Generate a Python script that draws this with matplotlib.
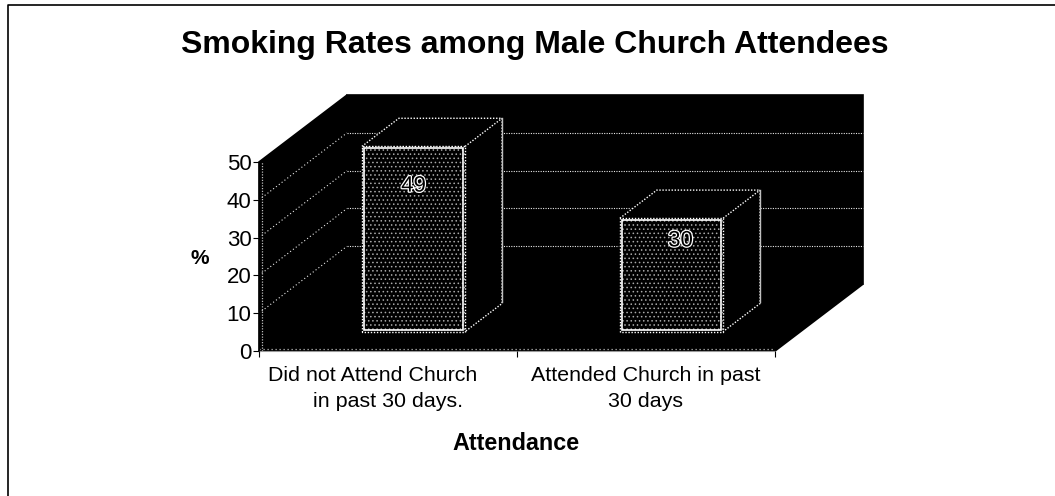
import matplotlib
matplotlib.use('Agg')
from matplotlib import pyplot as plt
from matplotlib.lines import Line2D
from matplotlib.patches import Polygon
import matplotlib.patheffects as pe

plt.rcParams['font.family'] = ['Liberation Sans', 'DejaVu Sans']
plt.rcParams['hatch.linewidth'] = 0.6

categories = ['Did not Attend Church     \nin past 30 days.', 'Attended Church in past\n30 days']
rates = [49, 30]
y_ticks = [0, 10, 20, 30, 40, 50]
grid_values = [10, 20, 30, 40]
label_drop = [10.5, 6]      # how far below the bar top the number sits
label_shift = [0, 9]        # sideways nudge of the number, px

# depth of the fake 3d box, in axis units
DEPTH_X = 0.341
DEPTH_V = 17.7
BAR_WIDTH = 0.40
BAR_NEAR = 0.29
BAR_FAR = 0.71


def proj(x, v, d):
    return x + d * DEPTH_X, v + d * DEPTH_V


def face(ax, pts, **kw):
    kw.setdefault('facecolor', 'black')
    kw.setdefault('edgecolor', 'black')
    kw.setdefault('linewidth', 1.2)
    p = Polygon([proj(*pt) for pt in pts], closed=True, clip_on=False, **kw)
    ax.add_patch(p)
    return p


def dotted(ax, pts, color='#e8e8e8', lw=0.9, z=3, gap=1.2):
    xs, ys = zip(*[proj(*pt) for pt in pts])
    ax.add_line(Line2D(xs, ys, color=color, lw=lw, ls=(0, (1, gap)), clip_on=False, zorder=z))


def draw_walls(ax):
    face(ax, [(0, 0, 0), (0, 50, 0), (0, 50, 1), (0, 0, 1)], zorder=1)
    face(ax, [(0, 0, 1), (0, 50, 1), (2, 50, 1), (2, 0, 1)], zorder=1)
    face(ax, [(0, 0, 0), (2, 0, 0), (2, 0, 1), (0, 0, 1)], zorder=1)
    for v in grid_values:
        dotted(ax, [(0, v, 0), (0, v, 1)], lw=0.8, z=2, gap=2.2)
        dotted(ax, [(0, v, 1), (2, v, 1)], lw=0.8, z=2)
    dotted(ax, [(0, 0.6, 0), (2, 0.6, 0)], color='#bbbbbb', z=2, gap=2.2)
    dotted(ax, [(0.01, 0, 0), (0.01, 50, 0)], color='#bbbbbb', z=2)


def draw_bar(ax, center, value, drop, shift):
    x0 = center - BAR_WIDTH / 2
    x1 = center + BAR_WIDTH / 2
    n, f = BAR_NEAR, BAR_FAR
    front = [(x0, 0, n), (x0, value, n), (x1, value, n), (x1, 0, n)]
    top = [(x0, value, n), (x0, value, f), (x1, value, f), (x1, value, n)]
    side = [(x1, 0, n), (x1, value, n), (x1, value, f), (x1, 0, f)]
    face(ax, side, zorder=4)
    face(ax, top, zorder=4)
    face(ax, front, zorder=4)
    # speckled front panel
    face(ax, front, zorder=5, facecolor='none', edgecolor='#a8a8a8', hatch='....', linewidth=0)

    # outer dotted edges of the box
    dotted(ax, front + front[:1], color='white', lw=1.0, z=6)
    dotted(ax, [(x0, value, n), (x0, value, f), (x1, value, f), (x1, 0, f), (x1, 0, n)], color='white', lw=1.0, z=6)
    dotted(ax, [(x1, value, n), (x1, value, f)], color='white', lw=1.0, z=6)

    # solid inner frame of the front panel
    ix, iv = 0.008, 0.55
    face(ax, [(x0 + ix, iv, n), (x0 + ix, value - iv, n), (x1 - ix, value - iv, n), (x1 - ix, iv, n)],
         facecolor='none', edgecolor='white', linewidth=1.2, zorder=6)
    ax.add_line(Line2D(*zip(*[proj(x1, 0.4, f), proj(x1, value, f)]), color='#c0c0c0', lw=1.0,
                       clip_on=False, zorder=6))

    lx, lv = proj(center, value - drop, n)
    ax.annotate(str(value), (lx, lv), xytext=(shift * 0.72, 0), textcoords='offset points',
                ha='center', va='center', fontsize=16, color='black', zorder=8,
                path_effects=[pe.withStroke(linewidth=1.8, foreground='white')])


fig = plt.figure(figsize=(10.55, 4.96), dpi=100)
ax = fig.add_axes([259 / 1055, 145 / 496, 516 / 1055, 189 / 496])
ax.set_xlim(0, 2)
ax.set_ylim(0, 50)
ax.patch.set_visible(False)

draw_walls(ax)
for i, val in enumerate(rates):
    draw_bar(ax, i + 0.5, val, label_drop[i], label_shift[i])

for s in ['top', 'right']:
    ax.spines[s].set_visible(False)
ax.spines['bottom'].set_color('#999999')
ax.spines['left'].set_linewidth(1.0)
ax.set_axisbelow(False)

ax.set_yticks(y_ticks)
ax.tick_params(axis='y', labelsize=16, length=4, width=0.8, pad=1.5)
ax.set_xticks([0, 1, 2])
ax.set_xticklabels([])
ax.set_xticks([0.5, 1.5], minor=True)
ax.set_xticklabels(categories, minor=True, fontsize=15.4, linespacing=1.42)
ax.tick_params(axis='x', which='major', length=4, width=0.8)
ax.tick_params(axis='x', which='minor', length=0, pad=11)

fig.text(535 / 1055, 1 - 53 / 496, 'Smoking Rates among Male Church Attendees', ha='center', va='baseline',
         fontsize=23, fontweight='bold')
fig.text(516 / 1055, 1 - 450 / 496, 'Attendance', ha='center', va='baseline', fontsize=16.8, fontweight='bold')
fig.text(200 / 1055, 1 - 258 / 496, '%', ha='center', va='center', fontsize=15, fontweight='bold')

# page frame, only top and left edges show
fig.add_artist(Line2D([7.5 / 1055, 7.5 / 1055, 1], [0, 1 - 5 / 496, 1 - 5 / 496], color='black', lw=1.2))

fig.savefig('out.png', dpi=100)
